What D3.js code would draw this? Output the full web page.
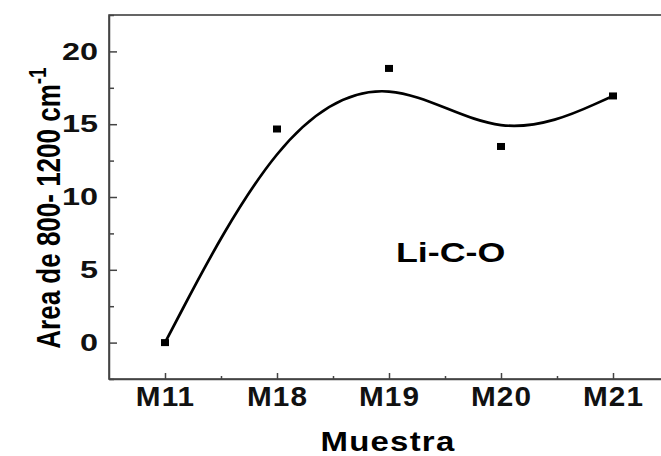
<!DOCTYPE html>
<html>
<head>
<meta charset="utf-8">
<script src="https://cdn.jsdelivr.net/npm/d3@7"></script>
<style>
  body { margin: 0; background: #fff; }
  svg { display: block; font-family: "Liberation Sans", Arial, sans-serif; }
  .axis path, .axis line { stroke: #444; stroke-width: 1.5; }
  .axis text { fill: #111; font-weight: bold; }
</style>
</head>
<body>
<div id="chart"></div>
<script>
const samples = ["M11", "M18", "M19", "M20", "M21"];
const areaValues = [0, 14.67, 18.83, 13.47, 16.94];
const yTicks = [0, 5, 10, 15, 20];
const yMinorTicks = [-2.5, 2.5, 7.5, 12.5, 17.5, 22.5];
const seriesLabel = "Li-C-O";

const width = 661, height = 456;
const margin = {top: 15, left: 109, right: -8, bottom: 77};

const canvas = d3.select("#chart")
    .append("svg")
    .attr("width", width)
    .attr("height", height);

const data = samples.map((s, i) => ({name: s, i: i, value: areaValues[i]}));

const xScale = d3.scaleLinear()
    .domain([-0.5, samples.length - 0.5])
    .range([margin.left, width - margin.right]);

const yScale = d3.scaleLinear()
    .domain([-2.5, 22.5])
    .range([height - margin.bottom, margin.top]);

// frame
canvas.append("rect")
    .attr("x", margin.left)
    .attr("y", margin.top)
    .attr("width", xScale.range()[1] - margin.left)
    .attr("height", height - margin.bottom - margin.top)
    .attr("fill", "none")
    .attr("stroke", "#333")
    .attr("stroke-width", 1.5);

// minor ticks
canvas.append("g")
    .attr("class", "axis")
    .attr("transform", `translate(0, ${height - margin.bottom})`)
    .call(d3.axisBottom(xScale).tickValues([0.5, 1.5, 2.5, 3.5]).tickSize(-3).tickFormat(""))
    .select(".domain").remove();

canvas.append("g")
    .attr("class", "axis")
    .attr("transform", `translate(${margin.left},0)`)
    .call(d3.axisLeft(yScale).tickValues(yMinorTicks).tickSize(-5).tickFormat(""))
    .select(".domain").remove();

// major axes
const xAxis = canvas.append("g")
    .attr("class", "axis")
    .attr("transform", `translate(0, ${height - margin.bottom})`)
    .call(d3.axisBottom(xScale)
        .tickValues(d3.range(samples.length))
        .tickSize(-6)
        .tickSizeOuter(0)
        .tickPadding(8)
        .tickFormat(i => samples[i]));
xAxis.selectAll(".tick text")
    .attr("x", 0)
    .style("font-size", "27px")
    .style("letter-spacing", "1px")
    .attr("transform", "scale(1.1,1)");

const yAxis = canvas.append("g")
    .attr("class", "axis")
    .attr("transform", `translate(${margin.left},0)`)
    .call(d3.axisLeft(yScale)
        .tickValues(yTicks)
        .tickSize(-8)
        .tickSizeOuter(0)
        .tickPadding(0)
        .tickFormat(d3.format("d")));
yAxis.selectAll("text")
    .style("font-size", "24px")
    .attr("x", -11 / 1.35)
    .attr("transform", "scale(1.35,1)");

// fitted curve
const line = d3.line()
    .x(d => xScale(d.i))
    .y(d => yScale(d.value))
    .curve(d3.curveBasis);

canvas.append("path")
    .datum(data)
    .attr("d", line)
    .attr("fill", "none")
    .attr("stroke", "#000")
    .attr("stroke-width", 2.7);

// points
canvas.selectAll(".pt")
    .data(data)
    .enter()
    .append("rect")
    .attr("class", "pt")
    .attr("x", d => xScale(d.i) - 4)
    .attr("y", d => yScale(d.value) - 3.5)
    .attr("width", 8)
    .attr("height", 7)
    .attr("fill", "#000");

// series label
canvas.append("text")
    .attr("transform", `translate(${xScale(2.55)}, 262) scale(1.28,1)`)
    .attr("text-anchor", "middle")
    .style("font-size", "28px")
    .style("font-weight", "bold")
    .text(seriesLabel);

// axis titles
canvas.append("text")
    .attr("transform", `translate(388, 451) scale(1.22,1)`)
    .attr("text-anchor", "middle")
    .style("font-size", "27px")
    .style("font-weight", "bold")
    .style("letter-spacing", "1px")
    .text("Muestra");

const yLabel = canvas.append("text")
    .attr("transform", `translate(60, 208) scale(1.25,1) rotate(-90)`)
    .attr("text-anchor", "middle")
    .style("font-size", "26px")
    .style("font-weight", "bold");
yLabel.append("tspan").text("Area de 800- 1200 cm");
yLabel.append("tspan")
    .attr("dy", -11)
    .style("font-size", "19px")
    .text("-1");
</script>
</body>
</html>
